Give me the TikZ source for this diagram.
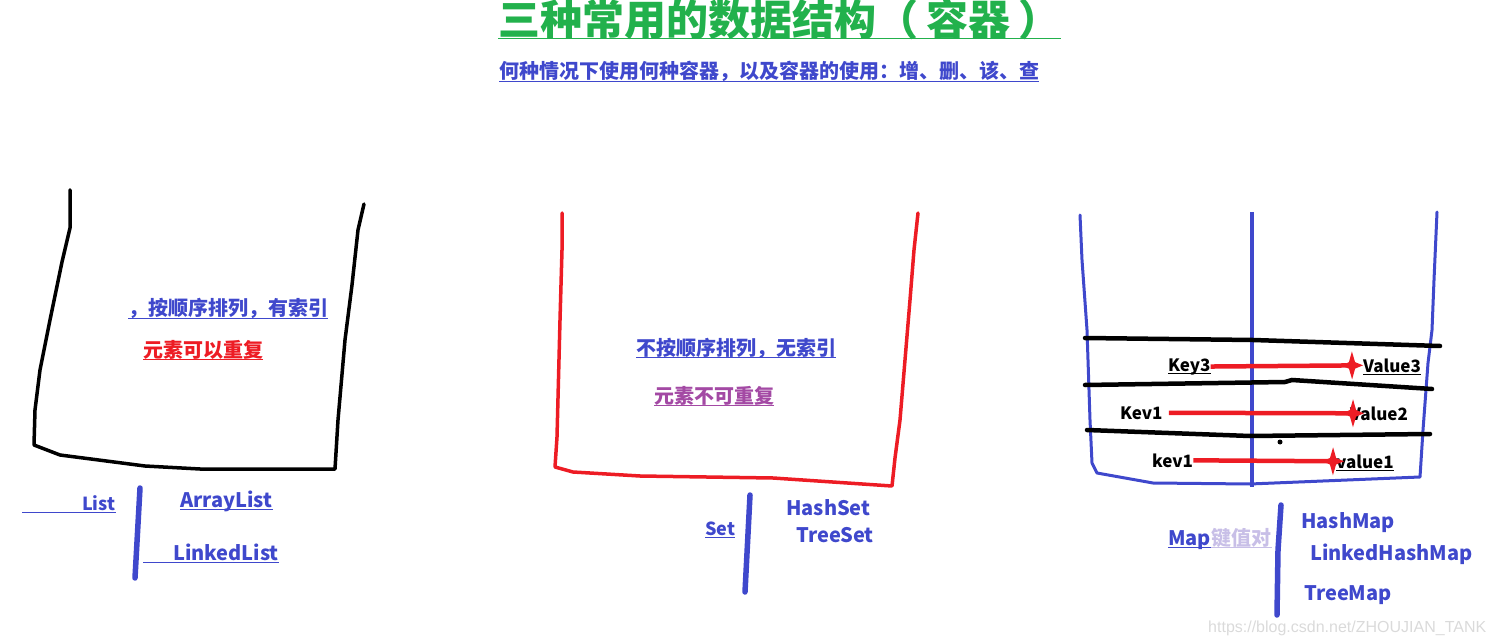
\documentclass[tikz,border=0pt]{standalone}
\usepackage{fontspec}
\setmainfont{Noto Sans CJK SC}
\newfontfamily\wmfont{Liberation Sans}
\usepackage{tikz}
\usetikzlibrary{arrows.meta,positioning}
\definecolor{titlegreen}{HTML}{22B14C}
\definecolor{inkblue}{HTML}{3F48CC}
\definecolor{inkred}{HTML}{ED1C24}
\definecolor{inkpurple}{HTML}{A349A4}
\definecolor{inklilac}{HTML}{C8BFE7}
\definecolor{wmgray}{HTML}{DADADA}

\begin{document}
\begin{tikzpicture}[x=1pt,y=-1pt,
		lbl/.style={anchor=base west, inner sep=0pt, text=inkblue, font=\bfseries\fontsize{20}{20}\selectfont},
		small/.style={lbl, font=\bfseries\fontsize{18}{18}\selectfont},
		kvtext/.style={lbl, text=black, font=\bfseries\fontsize{17}{17}\selectfont},
		ul/.style={append after command={([yshift=-2.5pt]\tikzlastnode.base west) edge[draw=#1, line width=1.3pt] ([yshift=-2.5pt]\tikzlastnode.base east)}},
		bucket/.style={line width=3.5pt, line join=round, line cap=round},
		bar/.style={draw=inkblue, line width=5.5pt, line cap=round},
		kv/.style={draw=inkred, line width=4.5pt, -{Diamond[length=8pt,width=28pt,sep=-15pt]Diamond[length=22pt,width=9pt]}}
		]
	\useasboundingbox (0,0) rectangle (1496,644);

	% headings
	\node[lbl, text=titlegreen, font=\bfseries\fontsize{42}{42}\selectfont, ul=titlegreen] (title) at (498,36) {三种常用的数据结构（\hspace{.2em}容器\hspace{.2em}）};
	\node[lbl, ul=inkblue] (subtitle) at (499,79) {何种情况下使用何种容器，以及容器的使用：增、删、该、查};

	% List
	\draw[bucket, black] (70,190) -- (70,228) -- (62,262) -- (50,320) -- (40,370) -- (35,410) -- (34,445) -- (60,455) -- (145,466) -- (200,469) -- (335,469) -- (338,420) -- (345,340) -- (352,285) -- (358,230) -- (364,204);
	\node[lbl, ul=inkblue] (listorder) at (128,316) {，按顺序排列，有索引};
	\node[lbl, text=inkred, ul=inkred] (listdup) at (143,357) {元素可以重复};
	\node[small, ul=inkblue] (listname) at (22,510) {\hspace*{60pt}List};
	\draw[bar] (140,488) -- (135,578);
	\node[lbl, ul=inkblue] (arraylist) at (180,507) {ArrayList};
	\node[lbl, ul=inkblue] (linkedlist) at (143,560) {\hspace*{30pt}LinkedList};

	% Set
	\draw[bucket, inkred] (562,213) -- (562,250) -- (560,320) -- (557,437) -- (555,467) -- (573,472) -- (640,476) -- (773,478) -- (892,486) -- (895,458) -- (900,420) -- (905,360) -- (910,300) -- (914,250) -- (918,213);
	\node[lbl, ul=inkblue] (setorder) at (636,355) {不按顺序排列，无索引};
	\node[lbl, text=inkpurple, ul=inkpurple] (setdup) at (654,403) {元素不可重复};
	\node[small, ul=inkblue] (setname) at (705,535) {Set};
	\draw[bar] (750,495) -- (745,592);
	\node[lbl] (hashset) at (786,515) {HashSet};
	\node[lbl] (treeset) at (796,542) {TreeSet};

	% Map
	\draw[bucket, inkblue, line width=3pt] (1080,215) -- (1082,260) -- (1087,330) -- (1090,420) -- (1092,463) -- (1097,473) -- (1153,483) -- (1250,484) -- (1420,477) -- (1423,430) -- (1428,363) -- (1432,330) -- (1434,280) -- (1437,212);
	\draw[inkblue, line width=4pt] (1252,212) -- (1252,487);
	\draw[line width=4.5pt, line cap=round] (1085,338) -- (1253,340) -- (1440,346);
	\draw[line width=4.5pt, line cap=round] (1085,385) -- (1285,382) -- (1292,380) -- (1432,389);
	\draw[line width=4.5pt, line cap=round] (1087,430) -- (1250,436) -- (1430,434);
	\fill (1280,442) circle (2.5pt);
	\node[kvtext, ul=black] (key3) at (1168,371) {Key3};
	\node[kvtext, ul=black] (val3) at (1363,372) {Value3};
	\node[kvtext] (key2) at (1120,419) {Kev1};
	\node[kvtext] (val2) at (1350,420) {Value2};
	\node[kvtext] (key1) at (1152,467) {kev1};
	\node[kvtext, ul=black] (val1) at (1336,468) {value1};
	\draw[kv] (key3.east) -- (val3.west);
	\draw[kv] ([xshift=6pt]key2.east) -- ([xshift=14pt]val2.west);
	\draw[kv] (key1.east) -- ([xshift=8pt]val1.west);
	\node[lbl, ul=inkblue] (mapname) at (1168,545) {Map};
	\node[lbl, text=inklilac, ul=inklilac, right=0pt of mapname.base east, anchor=base west] (mapkv) {键值对};
	\draw[bar] (1281,505) -- (1278,550) -- (1277,615);
	\node[lbl] (hashmap) at (1301,528) {HashMap};
	\node[lbl] (linkedhashmap) at (1310,560) {LinkedHashMap};
	\node[lbl] (treemap) at (1304,600) {TreeMap};

	\node[anchor=base west, inner sep=0pt, text=wmgray, font=\wmfont\fontsize{16}{16}\selectfont] (watermark) at (1208,632) {https://blog.csdn.net/ZHOUJIAN\_TANK};
\end{tikzpicture}
\end{document}
